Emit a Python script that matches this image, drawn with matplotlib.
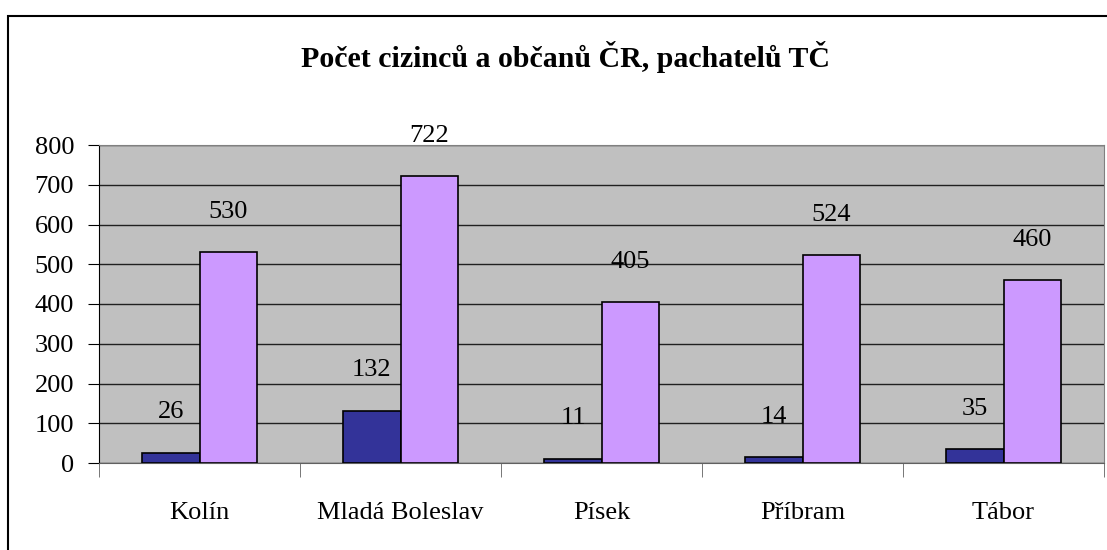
import matplotlib.pyplot as plt
import numpy as np
from matplotlib.patches import Rectangle

plt.rcParams['font.family'] = ['Liberation Serif', 'DejaVu Serif']

mesta = ["Kolín", "Mladá Boleslav", "Písek", "Příbram", "Tábor"]
cizinci = [26, 132, 11, 14, 35]
obcane = [530, 722, 405, 524, 460]

fig = plt.figure(figsize=(11.07, 5.5), dpi=100)
ax = fig.add_axes([99/1107, 1 - 463/550, 1005/1107, 318/550])

x = np.arange(len(mesta))
w = 0.284
b1 = ax.bar(x - w/2, cizinci, w, color="#333399", edgecolor="black", lw=1.2, zorder=3)
b2 = ax.bar(x + w/2, obcane, w, color="#CC99FF", edgecolor="black", lw=1.2, zorder=3)
for bars in (b1, b2):
    ax.bar_label(bars, padding=21, fontsize=19)

ax.set_xlim(-0.5, len(mesta) - 0.5)
ax.set_ylim(0, 800)
ax.set_yticks(range(0, 801, 100))
ax.set_facecolor("#C0C0C0")
ax.grid(axis="y", color="#202020", lw=1, zorder=1)

ax.set_xticks(x)
ax.set_xticklabels(mesta, fontsize=19)
ax.tick_params(axis="x", length=0, pad=28)
ax.set_xticks(np.arange(-0.5, len(mesta)), minor=True)
ax.tick_params(axis="x", which="minor", length=10, color="#606060")
ax.tick_params(axis="y", labelsize=19, length=8, pad=10, color="black")

ax.spines["left"].set_color("black")
ax.spines["bottom"].set_color("#606060")
ax.spines["top"].set_color("#808080")
ax.spines["right"].set_color("#808080")

fig.text(0.511, 1 - 57/550, "Počet cizinců a občanů ČR, pachatelů TČ",
         ha="center", va="center", fontsize=21.5, fontweight="bold")

fig.patches.append(Rectangle((8/1107, -0.05), 1.1, 1 - 16/550 + 0.05,
                             transform=fig.transFigure, fill=False,
                             edgecolor="black", lw=1.5))

fig.savefig("out.png", dpi=100)
